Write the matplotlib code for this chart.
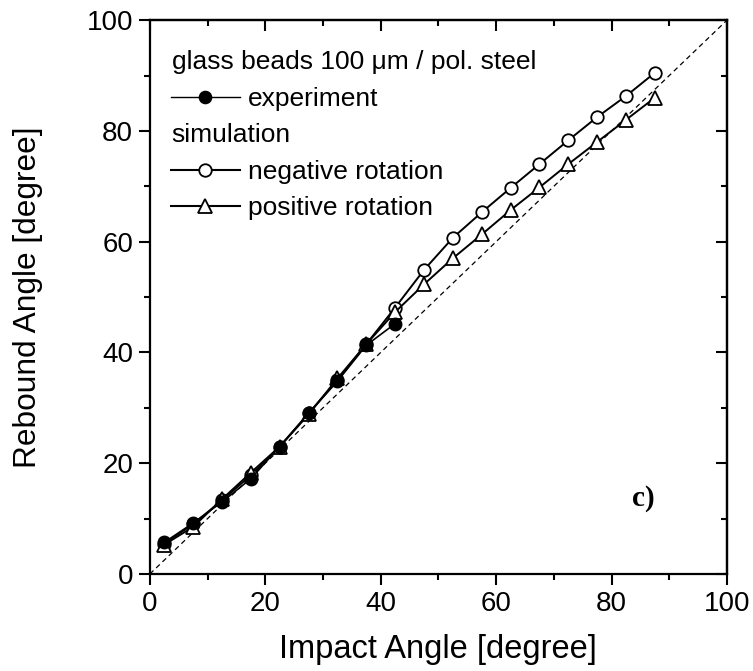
import matplotlib
matplotlib.use("Agg")
import matplotlib.pyplot as plt
from matplotlib.ticker import MultipleLocator

plt.rcParams['font.family'] = ['Liberation Sans', 'DejaVu Sans']

impact_sim = [2.5, 7.5, 12.5, 17.5, 22.5, 27.5, 32.5, 37.5, 42.5, 47.5,
              52.5, 57.5, 62.5, 67.5, 72.5, 77.5, 82.5, 87.5]
neg_rot = [5.5, 9.0, 13.3, 17.8, 23.0, 29.0, 35.0, 41.5, 48.1, 54.9,
           60.7, 65.3, 69.7, 74.0, 78.3, 82.5, 86.3, 90.5]
pos_rot = [5.3, 8.5, 13.5, 18.3, 23.0, 28.8, 35.3, 41.5, 47.3, 52.3,
           57.0, 61.3, 65.7, 69.8, 74.0, 78.0, 82.0, 86.0]
impact_exp = [2.5, 7.5, 12.5, 17.5, 22.5, 27.5, 32.5, 37.5, 42.5]
experiment = [5.7, 9.2, 13.0, 17.2, 23.0, 29.0, 34.8, 41.3, 45.2]
diag = [0, 100]

fig = plt.figure(figsize=(7.53, 6.71), dpi=100)
ax = fig.add_axes([0.199, 0.1446, 0.7665, 0.8254])

ax.plot(diag, diag, linestyle=(0, (4, 3)), color='black', lw=0.9)
ax.plot(impact_sim, neg_rot, '-o', color='black', lw=1.4, ms=9,
        mfc='white', mec='black', mew=1.3)
ax.plot(impact_sim, pos_rot, '-^', color='black', lw=1.4, ms=10,
        mfc='white', mec='black', mew=1.3)
ax.plot(impact_exp, experiment, '-o', color='black', lw=1.2, ms=9,
        mfc='black', mec='black')

ax.set_xlim(0, 100)
ax.set_ylim(0, 100)
for axis in (ax.xaxis, ax.yaxis):
    axis.set_major_locator(MultipleLocator(20))
    axis.set_minor_locator(MultipleLocator(10))
ax.tick_params(which='both', direction='out', width=1.5)
ax.tick_params(which='major', length=8, labelsize=20, pad=4)
ax.tick_params(which='minor', length=4.5)
for s in ax.spines.values():
    s.set_linewidth(1.6)

# inward ticks on top and right
top = ax.secondary_xaxis('top')
right = ax.secondary_yaxis('right')
for sec, axis in ((top, top.xaxis), (right, right.yaxis)):
    axis.set_major_locator(MultipleLocator(20))
    axis.set_minor_locator(MultipleLocator(10))
    sec.tick_params(which='both', direction='in', width=1.5,
                    labeltop=False, labelright=False)
    sec.tick_params(which='major', length=8)
    sec.tick_params(which='minor', length=4.5)
    for s in sec.spines.values():
        s.set_linewidth(1.6)

ax.set_xlabel('Impact Angle [degree]', fontsize=23.5)
ax.set_ylabel('Rebound Angle [degree]', fontsize=22.8)
ax.xaxis.set_label_coords(0.5, -0.108)
ax.yaxis.set_label_coords(-0.185, 0.5)

# legend (manual)
tr = ax.transAxes
fs = 19
ax.text(0.038, 0.911, 'glass beads 100 \u03bcm / pol. steel', transform=tr,
        fontsize=fs, va='baseline', ha='left')
ax.text(0.038, 0.780, 'simulation', transform=tr, fontsize=fs,
        va='baseline', ha='left')
rows = [(0.8616, 0.845, 'experiment', 'o', 'black', 1.0, 8.5),
        (0.729, 0.714, 'negative rotation', 'o', 'white', 1.5, 9),
        (0.664, 0.648, 'positive rotation', '^', 'white', 1.5, 10)]
for yl, yt, lab, m, fc, lw, ms in rows:
    ax.plot([0.036, 0.156], [yl, yl], color='black', lw=lw, transform=tr)
    ax.plot([0.0953], [yl], marker=m, ms=ms, mfc=fc, mec='black', mew=1.3,
            transform=tr, linestyle='none')
    ax.text(0.170, yt, lab, transform=tr, fontsize=fs, va='baseline', ha='left')

ax.text(0.855, 0.137, 'c)', transform=tr, fontsize=21, fontweight='bold',
        family=['Liberation Serif', 'DejaVu Serif'], ha='center', va='center')

fig.savefig('out.png', dpi=100)
